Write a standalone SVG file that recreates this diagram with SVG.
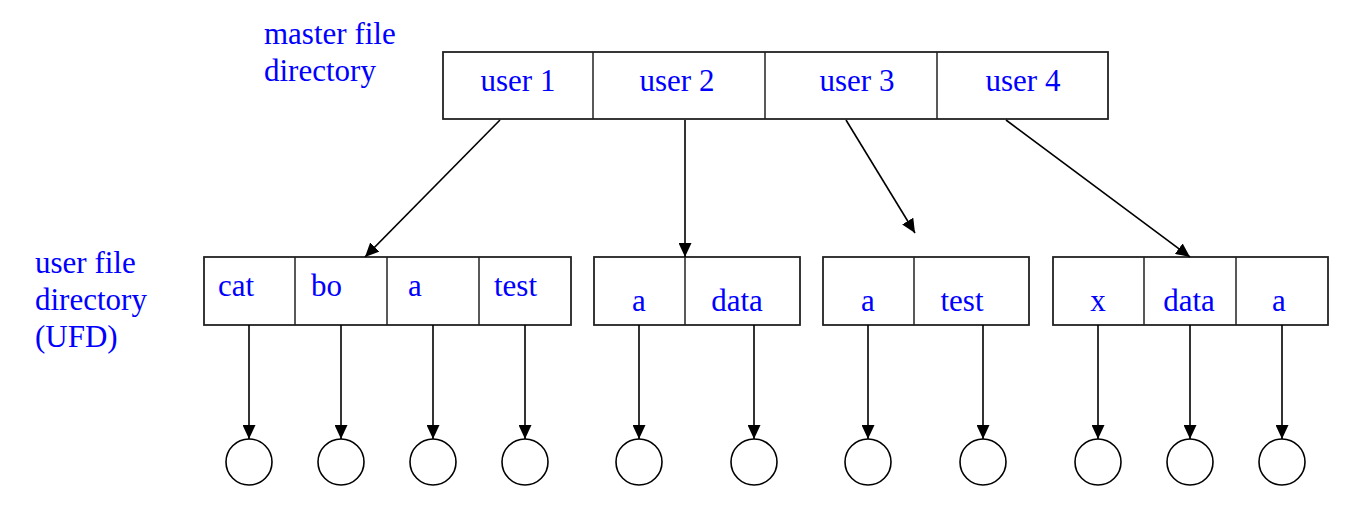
<svg xmlns="http://www.w3.org/2000/svg" width="1368" height="512" viewBox="0 0 1368 512">
<style>
.t{font-family:"Liberation Serif","Times New Roman",serif;font-size:31px;fill:#0000ff}
.m{text-anchor:middle}
.box{fill:#fff;stroke:#222;stroke-width:1.8}
.div{stroke:#222;stroke-width:1.5}
.c{stroke:#000;stroke-width:1.6;fill:none;marker-end:url(#ah)}
.f{fill:#fff;stroke:#000;stroke-width:1.6}
</style>
<defs>
<marker id="ah" viewBox="0 0 14 13" refX="14" refY="6.5" markerWidth="14" markerHeight="13" markerUnits="userSpaceOnUse" orient="auto">
<path d="M0,0 L14,6.5 L0,13 Z" fill="#000"/>
</marker>
</defs>
<rect width="1368" height="512" fill="#fff"/>
<g id="labels">
<text class="t" x="264" y="44">master file</text>
<text class="t" x="264" y="81">directory</text>
<text class="t" x="35" y="273">user file</text>
<text class="t" x="35" y="310">directory</text>
<text class="t" x="35" y="347">(UFD)</text>
</g>
<g id="mfd">
<rect class="box" x="443" y="52" width="665" height="67"/>
<line class="div" x1="593" y1="52" x2="593" y2="119"/>
<line class="div" x1="765" y1="52" x2="765" y2="119"/>
<line class="div" x1="937" y1="52" x2="937" y2="119"/>
<text class="t m" x="518" y="91">user 1</text>
<text class="t m" x="677" y="91">user 2</text>
<text class="t m" x="857" y="91">user 3</text>
<text class="t m" x="1023" y="91">user 4</text>
</g>
<g id="ufd1">
<rect class="box" x="204" y="257" width="367" height="68"/>
<line class="div" x1="295" y1="257" x2="295" y2="325"/>
<line class="div" x1="387" y1="257" x2="387" y2="325"/>
<line class="div" x1="479" y1="257" x2="479" y2="325"/>
<text class="t" x="218" y="296">cat</text>
<text class="t" x="311" y="296">bo</text>
<text class="t" x="408" y="296">a</text>
<text class="t" x="494" y="296">test</text>
</g>
<g id="ufd2">
<rect class="box" x="594" y="257" width="206" height="68"/>
<line class="div" x1="685" y1="257" x2="685" y2="325"/>
<text class="t m" x="639" y="311">a</text>
<text class="t m" x="737" y="311">data</text>
</g>
<g id="ufd3">
<rect class="box" x="823" y="257" width="206" height="68"/>
<line class="div" x1="914" y1="257" x2="914" y2="325"/>
<text class="t m" x="868" y="311">a</text>
<text class="t m" x="962" y="311">test</text>
</g>
<g id="ufd4">
<rect class="box" x="1053" y="257" width="275" height="68"/>
<line class="div" x1="1144" y1="257" x2="1144" y2="325"/>
<line class="div" x1="1236" y1="257" x2="1236" y2="325"/>
<text class="t m" x="1098" y="311">x</text>
<text class="t m" x="1189" y="311">data</text>
<text class="t m" x="1279" y="311">a</text>
</g>
<g id="files">
<circle class="f" cx="249" cy="462" r="23"/>
<circle class="f" cx="341" cy="462" r="23"/>
<circle class="f" cx="433" cy="462" r="23"/>
<circle class="f" cx="525" cy="462" r="23"/>
<circle class="f" cx="639" cy="462" r="23"/>
<circle class="f" cx="754" cy="462" r="23"/>
<circle class="f" cx="868" cy="462" r="23"/>
<circle class="f" cx="983" cy="462" r="23"/>
<circle class="f" cx="1098" cy="462" r="23"/>
<circle class="f" cx="1190" cy="462" r="23"/>
<circle class="f" cx="1282" cy="462" r="23"/>
</g>
<g id="connectors">
<line class="c" x1="500" y1="120" x2="365" y2="257"/>
<line class="c" x1="685" y1="120" x2="685" y2="257"/>
<line class="c" x1="846" y1="120" x2="915" y2="233"/>
<line class="c" x1="1006" y1="120" x2="1190" y2="257"/>
<line class="c" x1="249" y1="325" x2="249" y2="439"/>
<line class="c" x1="341" y1="325" x2="341" y2="439"/>
<line class="c" x1="433" y1="325" x2="433" y2="439"/>
<line class="c" x1="525" y1="325" x2="525" y2="439"/>
<line class="c" x1="639" y1="325" x2="639" y2="439"/>
<line class="c" x1="754" y1="325" x2="754" y2="439"/>
<line class="c" x1="868" y1="325" x2="868" y2="439"/>
<line class="c" x1="983" y1="325" x2="983" y2="439"/>
<line class="c" x1="1098" y1="325" x2="1098" y2="439"/>
<line class="c" x1="1190" y1="325" x2="1190" y2="439"/>
<line class="c" x1="1282" y1="325" x2="1282" y2="439"/>
</g>
</svg>
